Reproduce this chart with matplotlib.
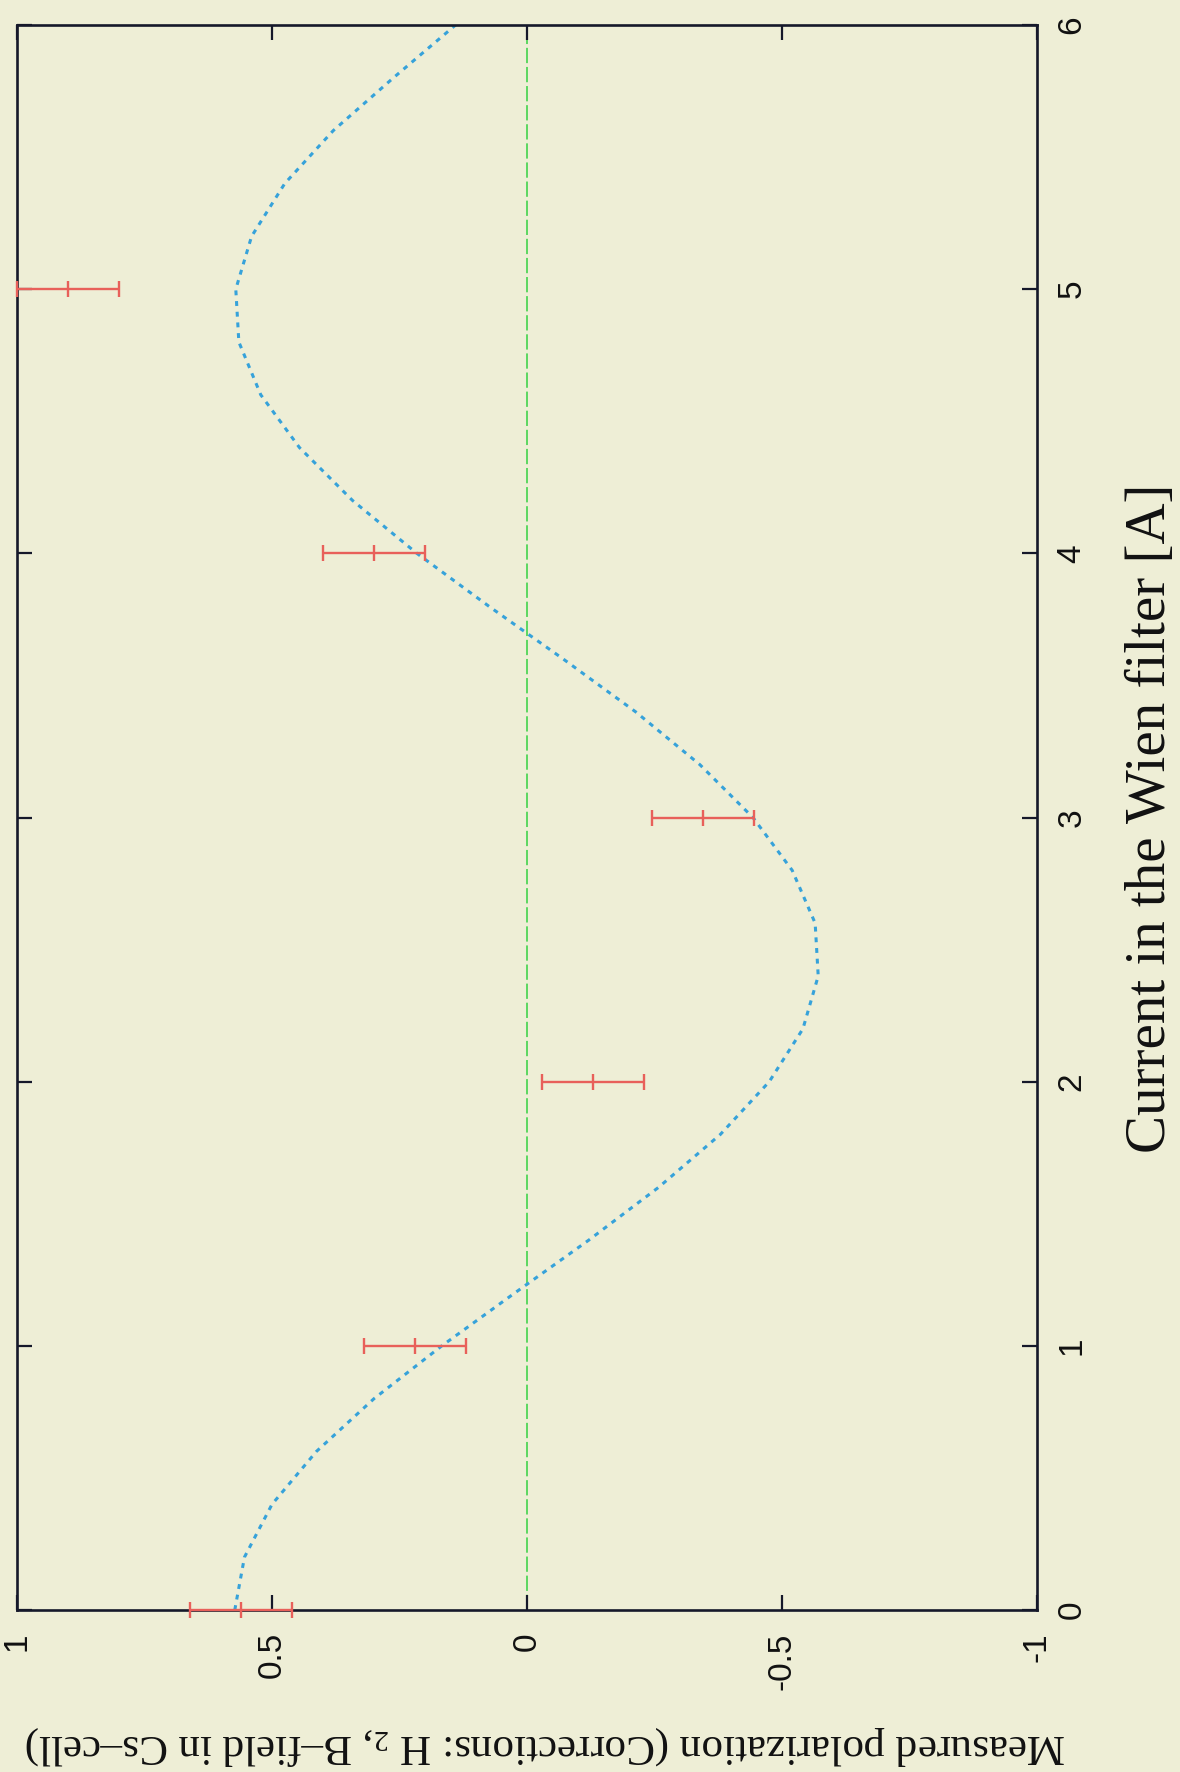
import matplotlib
matplotlib.use('Agg')
import matplotlib.pyplot as plt

# ---- data ----
current = [0, 1, 2, 3, 4, 5]
polarization = [0.56, 0.22, -0.13, -0.345, 0.30, 0.90]
pol_err = [0.10, 0.10, 0.10, 0.10, 0.10, 0.10]

fit_current = [0.0, 0.2, 0.4, 0.6, 0.8, 1.0, 1.2, 1.4, 1.6, 1.8, 2.0,
               2.2, 2.4, 2.6, 2.8, 3.0, 3.2, 3.4, 3.6, 3.8, 4.0,
               4.2, 4.4, 4.6, 4.8, 5.0, 5.2, 5.4, 5.6, 5.8, 6.0]
fit_pol = [0.573, 0.554, 0.500, 0.413, 0.300, 0.167, 0.024, -0.121, -0.258, -0.379, -0.475,
           -0.541, -0.571, -0.565, -0.520, -0.443, -0.339, -0.213, -0.071, 0.075, 0.216,
           0.342, 0.446, 0.522, 0.565, 0.571, 0.540, 0.475, 0.380, 0.262, 0.140]

pol_ticks = [1, 0.5, 0, -0.5, -1]
pol_tick_labels = ['1', '0.5', '0', '-0.5', '-1']
current_ticks = [0, 1, 2, 3, 4, 5, 6]
current_tick_labels = ['0', '1', '2', '3', '4', '5', '6']

xlabel_text = 'Current in the Wien filter [A]'
ylabel_text = 'Measured polarization (Corrections: H $_\\mathrm{2}$, B\u2013field in Cs\u2013cell)'

# ---- style ----
plt.rcParams['mathtext.fontset'] = 'custom'
plt.rcParams['mathtext.rm'] = 'Liberation Serif'
plt.rcParams['mathtext.it'] = 'Liberation Serif:italic'

bg = '#eeeed6'
axis_col = '#15182a'

W, H = 1180, 1772
fig = plt.figure(figsize=(W / 100, H / 100), dpi=100, facecolor=bg)
ax = fig.add_axes([17 / W, 1 - 1610 / H, (1037 - 17) / W, (1610 - 25) / H])
ax.set_facecolor(bg)

ax.axvline(0, color='#34d040', lw=1.1, ls=(0, (10, 2.5)), zorder=1)
ax.plot(fit_pol, fit_current, color='#36a2da', lw=2.2, ls=(0, (1.6, 1.9)), zorder=2)
ax.errorbar(polarization, current, xerr=pol_err, fmt='|', color='#e8605a',
            ecolor='#e8605a', elinewidth=1.7, capsize=6, capthick=1.7,
            ms=12, mew=1.7, clip_on=False, zorder=3)

ax.set_xlim(1, -1)
ax.set_ylim(0, 6)
ax.set_xticks(pol_ticks)
ax.set_xticklabels(pol_tick_labels)
ax.set_yticks(current_ticks)
ax.set_yticklabels(current_tick_labels)

for s in ax.spines.values():
    s.set_color(axis_col)
    s.set_linewidth(1.9)

ax.tick_params(axis='x', direction='in', length=11, width=1.6, color=axis_col,
               top=True, bottom=True, labelbottom=True, labeltop=False,
               labelrotation=90, pad=16, labelsize=24)
ax.tick_params(axis='y', direction='in', length=11, width=1.6, color=axis_col,
               left=True, right=True, labelleft=False, labelright=True,
               labelrotation=90, pad=14, labelsize=24)
for t in ax.get_xticklabels() + ax.get_yticklabels():
    t.set_fontfamily('Liberation Sans')
    t.set_color('#111111')
for t in ax.get_yticklabels():
    t.set_verticalalignment('center')

fig.text(1151 / W, 1 - 818 / H, xlabel_text, rotation=90, ha='center', va='center',
         fontsize=41, family='Liberation Serif', color='#111111')
fig.text(546 / W, 1 - 1745 / H, ylabel_text, rotation=180, ha='center', va='center',
         fontsize=31, family='Liberation Serif', color='#111111')

fig.savefig('out.png', dpi=100, facecolor=bg)
